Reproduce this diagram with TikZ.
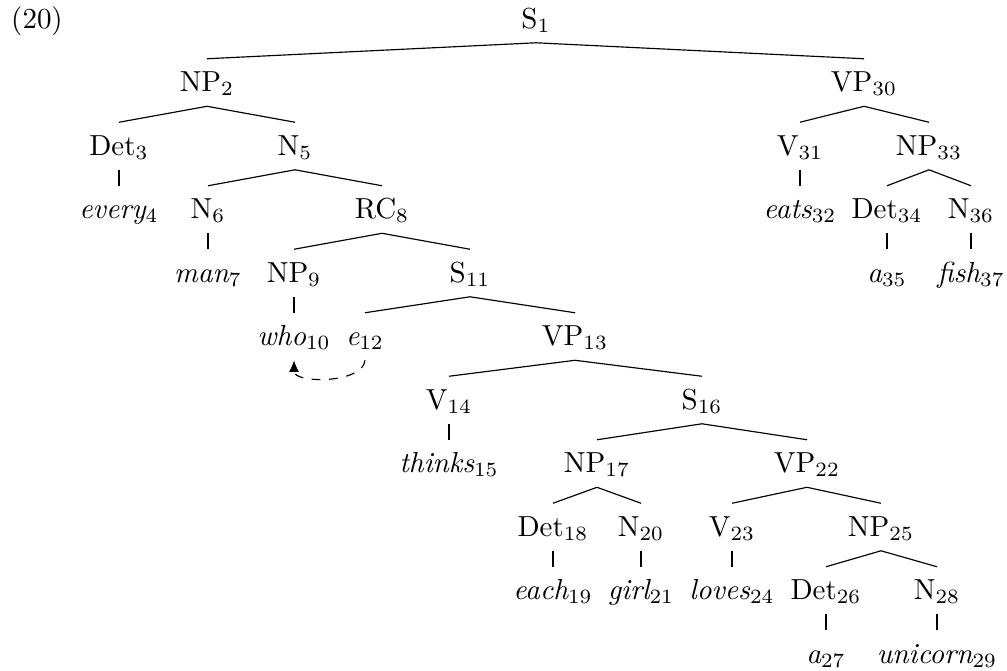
\documentclass[tikz,border=0pt]{standalone}
\usetikzlibrary{arrows.meta}
\begin{document}
\begin{tikzpicture}[x=0.345pt,y=-0.345pt,
  cat/.style={anchor=base,inner sep=2pt,text height=9.1pt,text depth=2.9pt},
  word/.style={cat,font=\itshape}]
\useasboundingbox (0,0) rectangle (1007,670);
\node[anchor=base] (ex) at (37,28) {(20)};
% categories and words, row by row
\node[cat] (S1) at (536,28) {S$_1$};
\node[cat] (NP2) at (207,91.5) {NP$_2$};
\node[cat] (VP30) at (864,91.5) {VP$_{30}$};
\node[cat] (Det3) at (119,155) {Det$_3$};
\node[cat] (N5) at (295,155) {N$_5$};
\node[cat] (V31) at (800,155) {V$_{31}$};
\node[cat] (NP33) at (929,155) {NP$_{33}$};
\node[word] (every4) at (119,218.5) {every$_4$};
\node[cat] (N6) at (208,218.5) {N$_6$};
\node[cat] (RC8) at (382,218.5) {RC$_8$};
\node[word] (eats32) at (800,218.5) {eats$_{32}$};
\node[cat] (Det34) at (887,218.5) {Det$_{34}$};
\node[cat] (N36) at (971,218.5) {N$_{36}$};
\node[word] (man7) at (208,282) {man$_7$};
\node[cat] (NP9) at (294,282) {NP$_9$};
\node[cat] (S11) at (470,282) {S$_{11}$};
\node[word] (a35) at (887,282) {a$_{35}$};
\node[word] (fish37) at (971,282) {fish$_{37}$};
\node[word] (who10) at (294,345.5) {who$_{10}$};
\node[word] (e12) at (365,345.5) {e$_{12}$};
\node[cat] (VP13) at (575,345.5) {VP$_{13}$};
\node[cat] (V14) at (449,409) {V$_{14}$};
\node[cat] (S16) at (702,409) {S$_{16}$};
\node[word] (thinks15) at (449,472.5) {thinks$_{15}$};
\node[cat] (NP17) at (597,472.5) {NP$_{17}$};
\node[cat] (VP22) at (807,472.5) {VP$_{22}$};
\node[cat] (Det18) at (553,536) {Det$_{18}$};
\node[cat] (N20) at (641,536) {N$_{20}$};
\node[cat] (V23) at (732,536) {V$_{23}$};
\node[cat] (NP25) at (881,536) {NP$_{25}$};
\node[word] (each19) at (553,599.5) {each$_{19}$};
\node[word] (girl21) at (641,599.5) {girl$_{21}$};
\node[word] (loves24) at (732,599.5) {loves$_{24}$};
\node[cat] (Det26) at (826,599.5) {Det$_{26}$};
\node[cat] (N28) at (937,599.5) {N$_{28}$};
\node[word] (a27) at (826,663) {a$_{27}$};
\node[word] (unicorn29) at (937,663) {unicorn$_{29}$};
% branches
\foreach \p/\c in {S1/NP2, S1/VP30, NP2/Det3, NP2/N5, VP30/V31, VP30/NP33,
  Det3/every4, N5/N6, N5/RC8, V31/eats32, NP33/Det34, NP33/N36,
  N6/man7, RC8/NP9, RC8/S11, Det34/a35, N36/fish37,
  NP9/who10, S11/e12, S11/VP13, VP13/V14, VP13/S16,
  V14/thinks15, S16/NP17, S16/VP22, NP17/Det18, NP17/N20, VP22/V23, VP22/NP25,
  Det18/each19, N20/girl21, V23/loves24, NP25/Det26, NP25/N28,
  Det26/a27, N28/unicorn29}
{
    \draw (\p.south) -- (\c.north);
}
\draw[dashed,-{Latex[length=4pt,width=3.5pt]}] (e12.south) to[out=-95,in=-90,looseness=0.85] (who10.south);
\end{tikzpicture}
\end{document}
